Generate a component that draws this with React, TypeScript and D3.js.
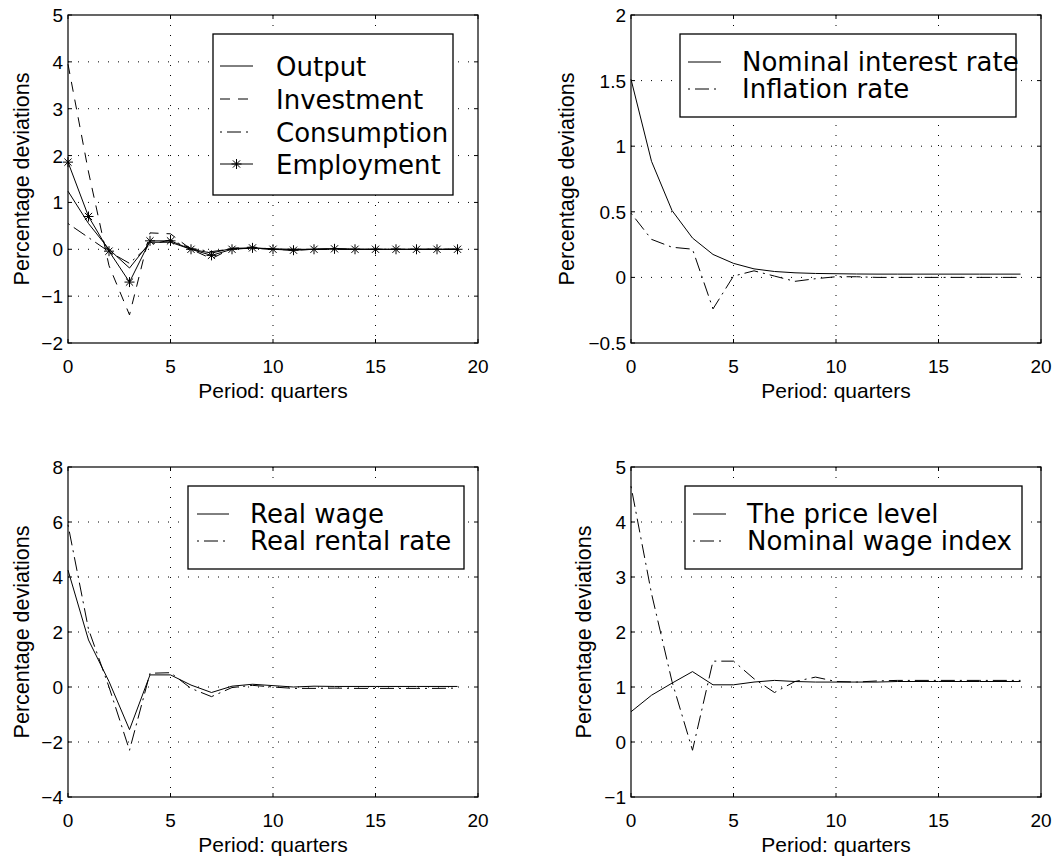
import React from 'react';
import * as d3 from 'd3';

// ---------- data ----------
const periods = [0, 1, 2, 3, 4, 5, 6, 7, 8, 9, 10, 11, 12, 13, 14, 15, 16, 17, 18, 19];
const xTicks = [0, 5, 10, 15, 20];

const output = [1.24, 0.55, 0.0, -0.4, 0.15, 0.15, 0.0, -0.08, 0.02, 0.03, 0.01, 0.0, 0.0, 0.01, 0.0, 0.0, 0.0, 0.0, 0.0, 0.0];
const investment = [3.95, 1.65, -0.35, -1.4, 0.35, 0.33, 0.0, -0.2, 0.02, 0.05, 0.0, -0.02, 0.0, 0.01, 0.0, 0.0, 0.0, 0.0, 0.0, 0.0];
const consumption = [0.55, 0.25, -0.05, -0.3, 0.1, 0.2, 0.02, -0.05, 0.01, 0.02, 0.0, 0.0, 0.0, 0.0, 0.0, 0.0, 0.0, 0.0, 0.0, 0.0];
const employment = [1.86, 0.7, -0.04, -0.7, 0.18, 0.18, 0.0, -0.13, 0.0, 0.03, 0.0, -0.02, 0.0, 0.01, 0.0, 0.0, 0.0, 0.0, 0.0, 0.0];

const nominalInterest = [1.51, 0.885, 0.51, 0.3, 0.175, 0.107, 0.065, 0.045, 0.035, 0.03, 0.028, 0.026, 0.025, 0.025, 0.025, 0.025, 0.025, 0.025, 0.025, 0.025];
const inflation = [0.49, 0.29, 0.23, 0.215, -0.24, 0.01, 0.05, 0.01, -0.03, -0.01, 0.005, 0.005, 0.0, 0.0, 0.0, 0.0, 0.0, 0.0, 0.0, 0.0];

const realWage = [4.25, 1.71, 0.2, -1.55, 0.44, 0.44, 0.07, -0.2, 0.03, 0.1, 0.05, 0.0, 0.03, 0.02, 0.02, 0.02, 0.02, 0.02, 0.02, 0.02];
const realRental = [5.9, 2.1, 0.0, -2.3, 0.5, 0.52, -0.05, -0.35, -0.02, 0.06, 0.0, -0.05, -0.05, -0.04, -0.05, -0.05, -0.05, -0.05, -0.05, -0.04];

const priceLevel = [0.55, 0.85, 1.07, 1.28, 1.04, 1.04, 1.09, 1.12, 1.1, 1.09, 1.09, 1.09, 1.09, 1.1, 1.1, 1.1, 1.1, 1.1, 1.1, 1.1];
const nominalWage = [4.65, 2.7, 1.1, -0.15, 1.47, 1.47, 1.15, 0.9, 1.1, 1.18, 1.1, 1.09, 1.11, 1.12, 1.12, 1.12, 1.12, 1.12, 1.12, 1.12];

const ticksTL = [-2, -1, 0, 1, 2, 3, 4, 5];
const ticksTR = [-0.5, 0, 0.5, 1, 1.5, 2];
const ticksBL = [-4, -2, 0, 2, 4, 6, 8];
const ticksBR = [-1, 0, 1, 2, 3, 4, 5];

const labelsTL = ['Output', 'Investment', 'Consumption', 'Employment'];
const labelsTR = ['Nominal interest rate', 'Inflation rate'];
const labelsBL = ['Real wage', 'Real rental rate'];
const labelsBR = ['The price level', 'Nominal wage index'];

const xLabel = 'Period: quarters';
const yLabel = 'Percentage deviations';

// ---------- styles ----------
type Style = 'solid' | 'dashed' | 'dashdot' | 'star';
const dashFor = (s: Style) =>
  s === 'dashed' ? '10 8' : s === 'dashdot' ? '2 5 14 5' : undefined;

const AXIS_FONT = '"Liberation Sans", Arial, Helvetica, sans-serif';
const LEGEND_FONT = '"DejaVu Sans", Verdana, sans-serif';

const fmt = (v: number) => (v < 0 ? '\u2212' : '') + String(Math.abs(v));

const starPath = (x: number, y: number) =>
  `M${x - 5},${y}h10M${x},${y - 5}v10M${x - 3.6},${y - 3.6}l7.2,7.2M${x - 3.6},${y + 3.6}l7.2,-7.2`;

interface Series {
  values: number[];
  style: Style;
  label: string;
}
interface LegendCfg {
  x: number;
  y: number;
  w: number;
  h: number;
  rows: number[];
  s0: number;
  s1: number;
  tx: number;
  baseOff: number;
}
interface PanelProps {
  left: number;
  top: number;
  width: number;
  height: number;
  yDomain: [number, number];
  yTicks: number[];
  series: Series[];
  legend: LegendCfg;
  ylabelX: number;
}

function Panel({ left, top, width, height, yDomain, yTicks, series, legend, ylabelX }: PanelProps) {
  const x = d3.scaleLinear().domain([0, 20]).range([left, left + width]);
  const y = d3.scaleLinear().domain(yDomain).range([top + height, top]);
  const bottom = top + height;
  const right = left + width;
  const line = d3
    .line<number>()
    .x((_, i) => x(periods[i]))
    .y((d) => y(d));
  const tl = 4;
  return (
    <g>
      {/* grid */}
      {xTicks
        .filter((t) => t > 0 && t < 20)
        .map((t) => (
          <line key={'gx' + t} x1={x(t)} x2={x(t)} y1={top} y2={bottom} stroke="#000" strokeWidth={1} strokeDasharray="1 9" />
        ))}
      {yTicks
        .filter((t) => t > yDomain[0] && t < yDomain[1])
        .map((t) => (
          <line key={'gy' + t} x1={left} x2={right} y1={y(t)} y2={y(t)} stroke="#000" strokeWidth={1} strokeDasharray="1 9" />
        ))}
      {/* series */}
      {series.map((s, i) => (
        <g key={'s' + i}>
          <path d={line(s.values) || ''} fill="none" stroke="#000" strokeWidth={1} strokeDasharray={dashFor(s.style)} />
          {s.style === 'star' &&
            s.values.map((v, j) => (
              <path key={j} d={starPath(x(periods[j]), y(v))} stroke="#000" strokeWidth={1} fill="none" />
            ))}
        </g>
      ))}
      {/* ticks */}
      {xTicks.map((t) => (
        <g key={'tx' + t}>
          <line x1={x(t)} x2={x(t)} y1={bottom} y2={bottom - tl} stroke="#000" />
          <line x1={x(t)} x2={x(t)} y1={top} y2={top + tl} stroke="#000" />
          <text x={x(t)} y={bottom + 30} textAnchor="middle" fontSize={19} fontFamily={AXIS_FONT}>
            {fmt(t)}
          </text>
        </g>
      ))}
      {yTicks.map((t) => (
        <g key={'ty' + t}>
          <line x1={left} x2={left + tl} y1={y(t)} y2={y(t)} stroke="#000" />
          <line x1={right} x2={right - tl} y1={y(t)} y2={y(t)} stroke="#000" />
          <text x={left - 5} y={y(t) + 7} textAnchor="end" fontSize={19} fontFamily={AXIS_FONT}>
            {fmt(t)}
          </text>
        </g>
      ))}
      {/* box */}
      <rect x={left} y={top} width={width} height={height} fill="none" stroke="#000" strokeWidth={1.2} />
      {/* labels */}
      <text x={(left + right) / 2} y={bottom + 55} textAnchor="middle" fontSize={21} fontFamily={AXIS_FONT}>
        {xLabel}
      </text>
      <text
        transform={`translate(${ylabelX},${(top + bottom) / 2}) rotate(-90)`}
        textAnchor="middle"
        dominantBaseline="central"
        fontSize={21.5}
        fontFamily={AXIS_FONT}
      >
        {yLabel}
      </text>
      {/* legend */}
      <rect x={legend.x} y={legend.y} width={legend.w} height={legend.h} fill="#fff" stroke="#000" strokeWidth={1.3} />
      {series.map((s, i) => {
        const ry = legend.rows[i];
        return (
          <g key={'l' + i}>
            <line x1={legend.s0} x2={legend.s1} y1={ry} y2={ry} stroke="#000" strokeWidth={1} strokeDasharray={dashFor(s.style)} />
            {s.style === 'star' && <path d={starPath((legend.s0 + legend.s1) / 2, ry)} stroke="#000" fill="none" />}
            <text x={legend.tx} y={ry + legend.baseOff} fontSize={26} fontFamily={LEGEND_FONT}>
              {s.label}
            </text>
          </g>
        );
      })}
    </g>
  );
}

export default function App() {
  return (
    <svg
      width={1057}
      height={860}
      viewBox="0 0 1057 860"
      style={{ position: 'absolute', left: 0, top: 0, background: '#fff' }}
    >
      <rect x={0} y={0} width={1057} height={860} fill="#fff" />
      <Panel
        left={68}
        top={15}
        width={410}
        height={328}
        yDomain={[-2, 5]}
        yTicks={ticksTL}
        ylabelX={22}
        series={[
          { values: output, style: 'solid', label: labelsTL[0] },
          { values: investment, style: 'dashed', label: labelsTL[1] },
          { values: consumption, style: 'dashdot', label: labelsTL[2] },
          { values: employment, style: 'star', label: labelsTL[3] },
        ]}
        legend={{ x: 213, y: 34, w: 240, h: 161, rows: [66, 99, 132, 164], s0: 220, s1: 253, tx: 276, baseOff: 10 }}
      />
      <Panel
        left={631}
        top={15}
        width={410}
        height={328}
        yDomain={[-0.5, 2]}
        yTicks={ticksTR}
        ylabelX={567}
        series={[
          { values: nominalInterest, style: 'solid', label: labelsTR[0] },
          { values: inflation, style: 'dashdot', label: labelsTR[1] },
        ]}
        legend={{ x: 680, y: 34, w: 336, h: 83, rows: [62, 89], s0: 688, s1: 721, tx: 742, baseOff: 9 }}
      />
      <Panel
        left={68}
        top={467}
        width={410}
        height={330}
        yDomain={[-4, 8]}
        yTicks={ticksBL}
        ylabelX={22}
        series={[
          { values: realWage, style: 'solid', label: labelsBL[0] },
          { values: realRental, style: 'dashdot', label: labelsBL[1] },
        ]}
        legend={{ x: 188, y: 486, w: 276, h: 83, rows: [514, 541], s0: 197, s1: 229, tx: 250, baseOff: 9 }}
      />
      <Panel
        left={631}
        top={467}
        width={410}
        height={330}
        yDomain={[-1, 5]}
        yTicks={ticksBR}
        ylabelX={584}
        series={[
          { values: priceLevel, style: 'solid', label: labelsBR[0] },
          { values: nominalWage, style: 'dashdot', label: labelsBR[1] },
        ]}
        legend={{ x: 685, y: 486, w: 337, h: 83, rows: [514, 541], s0: 693, s1: 726, tx: 747, baseOff: 9 }}
      />
    </svg>
  );
}
